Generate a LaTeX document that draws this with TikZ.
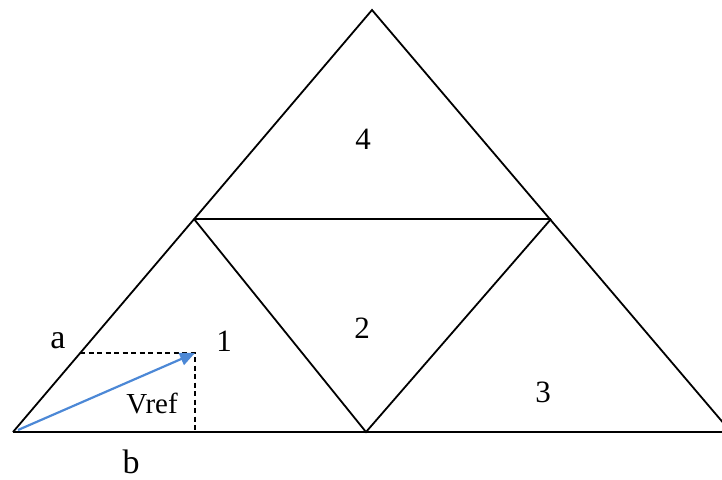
\documentclass[tikz,border=0pt]{standalone}
\usepackage{fontspec}
\setmainfont{Liberation Serif}
\usetikzlibrary{arrows.meta}
\definecolor{vblue}{RGB}{76,136,214}
\begin{document}
\begin{tikzpicture}[x=1pt,y=-1pt,
  edge/.style={line width=1.8pt, line join=miter},
  helper/.style={line width=1.4pt, dash pattern=on 5pt off 3.5pt},
  letter/.style={font=\fontsize{34}{34}\selectfont, inner sep=0pt},
  big/.style={font=\fontsize{31}{31}\selectfont, inner sep=0pt},
  small/.style={font=\fontsize{29}{29}\selectfont, inner sep=0pt}]
\useasboundingbox (0,0) rectangle (722,479);
\coordinate (A) at (13,432);
\coordinate (T) at (372,10);
\coordinate (B) at (731,432);
\coordinate (L) at (194,219);
\coordinate (R) at (551,219);
\coordinate (M) at (366,432);
\coordinate (O) at (18,430);
\coordinate (P) at (195,353);
\coordinate (Pa) at (80,353);
\coordinate (Pb) at (195,432);
\draw[edge] (A) -- (T) -- (B);
\draw[edge] (A) -- (B);
\draw[edge] (L) -- (R);
\draw[edge] (L) -- (M) -- (R);
\draw[helper] (Pa) -- (P) -- (Pb);
\draw[vblue, line width=2.2pt, -{Triangle[length=15pt,width=13pt]}] (O) -- (P);
\node[letter] (la) at (58,341) {a};
\node[big] (l1) at (224,341) {1};
\node[small] (lv) at (152,404) {Vref};
\node[letter] (lb) at (131,462) {b};
\node[big] (l2) at (362,328) {2};
\node[big] (l3) at (543,392) {3};
\node[big] (l4) at (363,139) {4};
\end{tikzpicture}
\end{document}
